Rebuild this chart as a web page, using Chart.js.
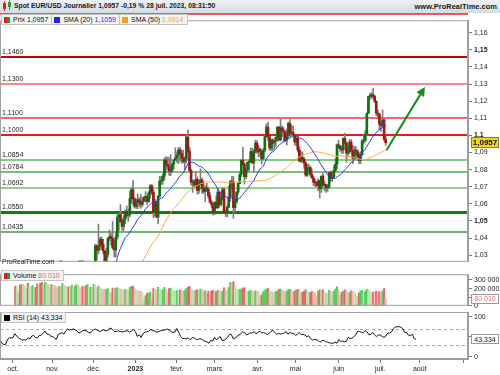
<!DOCTYPE html>
<html>
<head>
<meta charset="utf-8">
<script src="https://cdn.jsdelivr.net/npm/chart.js@4.4.0/dist/chart.umd.min.js"></script>
<style>
body{margin:0;background:#fff}
#wrap{position:relative;width:500px;height:375px;overflow:hidden;font-family:'Liberation Sans',Arial,sans-serif;color:#1a1a1a;background:#fff}
canvas{position:absolute;left:0}
.abs{position:absolute}
#hdr{left:0;top:0;width:500px;height:13px;background:linear-gradient(#eef2f5,#d2dce3)}
#title{left:14px;top:2px;font-size:6.8px;font-weight:bold;white-space:nowrap}
#site{right:3px;top:2px;font-size:7.5px;font-weight:bold;white-space:nowrap}
#redline{left:0;top:13px;width:468px;height:2px;background:#f25555}
.tags{position:absolute;display:flex}
.tag{height:9px;border:1px solid #c4c4c4;background:#f3f3f3;font-size:7px;line-height:9px;padding:0 3px 0 2px;white-space:nowrap;margin-right:-1px;color:#111}
.sq{display:inline-block;width:6px;height:6px;margin-right:3px;vertical-align:-0.5px}
.rg{background:linear-gradient(90deg,#d42020 50%,#22a022 50%)}
.axl{position:absolute;font-size:7px;line-height:8px;color:#222;z-index:5;white-space:nowrap}
</style>
</head>
<body>
<div id="wrap">
  <div id="hdr" class="abs"></div>
  <div class="abs" style="left:3px;top:3px;width:3px;height:6px;background:#d42020"></div>
  <div class="abs" style="left:4px;top:1px;width:1px;height:10px;background:#d42020"></div>
  <div class="abs" style="left:8px;top:2px;width:3px;height:5px;background:#22a022"></div>
  <div class="abs" style="left:9px;top:0px;width:1px;height:10px;background:#22a022"></div>
  <div id="title" class="abs">Spot EUR/USD Journalier 1,0957 -0,19 % 28 juil. 2023, 08:31:50</div>
  <div id="site" class="abs">www.ProRealTime.com</div>

  <canvas id="cPrice" width="500" height="254" style="top:14px"></canvas>
  <canvas id="cVol" width="500" height="44" style="top:268px"></canvas>
  <canvas id="cRsi" width="500" height="63" style="top:312px"></canvas>

  <div id="redline" class="abs"></div>
  <div class="tags" style="left:1px;top:14px">
    <div class="tag"><span class="sq rg"></span>Prix 1,0957</div>
    <div class="tag"><span class="sq" style="background:#2020ff"></span>SMA (20) <span style="color:#2a2aff">1,1059</span></div>
    <div class="tag"><span class="sq" style="background:#ff9a1a"></span>SMA (50) <span style="color:#ff9a1a">1,0914</span></div>
  </div>
  <div class="abs" style="left:2px;top:258px;font-size:6.6px;color:#222">ProRealTime.com</div>
  <div class="tags" style="left:1px;top:270px">
    <div class="tag"><span class="sq rg"></span>Volume <span style="color:#e06a6a">80 010</span></div>
  </div>
  <div class="tags" style="left:1px;top:312px">
    <div class="tag"><span class="sq" style="background:#000"></span>RSI (14) <span style="color:#111">43,334</span></div>
  </div>
</div>

<script>
// EUR/USD daily, 1 sept. 2022 -> 28 juil. 2023 (one line per month)
const opens = [
  1.0053,0.9945,0.9954,0.9929,0.9902,1.0012,1.0001,1.0042,1.0122,0.9966,0.9978,0.9995,1.0015,1.0025,0.9970,0.9835,0.9838,0.9688,0.9607,0.9594,0.9736,0.9815,
  0.9802,0.9826,0.9985,0.9890,0.9795,0.9745,0.9700,0.9706,0.9703,0.9779,0.9722,0.9841,0.9865,0.9772,0.9780,0.9864,0.9876,0.9962,1.0078,0.9964,0.9964,
  0.9882,0.9877,0.9818,0.9750,0.9960,1.0018,1.0074,1.0010,1.0209,1.0355,1.0327,1.0351,1.0393,1.0363,1.0324,1.0244,1.0304,1.0396,1.0409,1.0398,1.0345,1.0331,
  1.0406,1.0522,1.0537,1.0494,1.0468,1.0508,1.0555,1.0532,1.0538,1.0630,1.0683,1.0628,1.0585,1.0606,1.0623,1.0607,1.0597,1.0615,1.0638,1.0639,1.0612,1.0664,
  1.0705,1.0669,1.0548,1.0605,1.0522,1.0645,1.0733,1.0735,1.0762,1.0855,1.0831,1.0820,1.0789,1.0795,1.0831,1.0856,1.0870,1.0885,1.0915,1.0893,1.0867,1.0848,
  1.0862,1.0990,1.0908,1.0795,1.0727,1.0728,1.0711,1.0743,1.0678,1.0723,1.0740,1.0688,1.0673,1.0694,1.0685,1.0648,1.0610,1.0596,1.0547,1.0607,
  1.0576,1.0669,1.0596,1.0634,1.0683,1.0548,1.0545,1.0581,1.0641,1.0731,1.0729,1.0578,1.0611,1.0669,1.0719,1.0771,1.0855,1.0832,1.0758,1.0799,1.0843,1.0844,1.0905,
  1.0839,1.0900,1.0955,1.0907,1.0920,1.0901,1.0862,1.0913,1.0993,1.1048,1.0992,1.0927,1.0972,1.0955,1.0967,1.0989,1.1048,1.0974,1.1044,1.1028,
  1.1020,1.0972,1.1000,1.1071,1.1011,1.1019,1.1004,1.0961,1.0983,1.0915,1.0849,1.0872,1.0862,1.0838,1.0768,1.0806,1.0812,1.0771,1.0751,1.0727,1.0723,1.0707,1.0734,
  1.0689,1.0762,1.0708,1.0712,1.0693,1.0699,1.0782,1.0749,1.0755,1.0792,1.0831,1.0945,1.0939,1.0922,1.0915,1.0983,1.0956,1.0896,1.0904,1.0960,1.0911,1.0866,
  1.0910,1.0910,1.0881,1.0852,1.0887,1.0967,1.0970,1.1008,1.1130,1.1227,1.1229,1.1238,1.1228,1.1199,1.1130,1.1125,1.1065,1.1056,1.1090,1.0977
];
const highs = [
  1.0055,1.0033,0.9963,0.9989,1.0012,1.0030,1.0113,1.0198,1.0187,1.0019,1.0017,1.0036,1.0030,1.0051,0.9976,0.9908,0.9852,0.9708,0.9672,0.9737,0.9847,0.9853,
  0.9840,0.9999,0.9998,0.9920,0.9815,0.9745,0.9743,0.9737,0.9810,0.9809,0.9850,0.9875,0.9874,0.9849,0.9870,0.9875,0.9977,1.0094,1.0088,0.9983,0.9977,
  0.9953,0.9976,0.9828,0.9966,1.0033,1.0094,1.0094,1.0222,1.0365,1.0362,1.0481,1.0406,1.0405,1.0392,1.0328,1.0339,1.0403,1.0448,1.0428,1.0497,1.0390,1.0429,
  1.0534,1.0545,1.0595,1.0515,1.0531,1.0565,1.0587,1.0569,1.0673,1.0694,1.0736,1.0638,1.0629,1.0658,1.0636,1.0655,1.0637,1.0643,1.0671,1.0650,1.0673,1.0713,
  1.0713,1.0683,1.0629,1.0616,1.0648,1.0760,1.0761,1.0777,1.0868,1.0874,1.0873,1.0870,1.0887,1.0838,1.0860,1.0927,1.0904,1.0930,1.0929,1.0914,1.0914,1.0876,
  1.1000,1.1033,1.0932,1.0805,1.0740,1.0740,1.0790,1.0757,1.0736,1.0805,1.0752,1.0730,1.0705,1.0720,1.0698,1.0665,1.0621,1.0600,1.0615,1.0645,
  1.0691,1.0670,1.0640,1.0695,1.0694,1.0563,1.0590,1.0703,1.0736,1.0760,1.0760,1.0637,1.0672,1.0721,1.0788,1.0856,1.0930,1.0841,1.0805,1.0845,1.0858,1.0925,1.0925,
  1.0918,1.0973,1.0970,1.0941,1.0925,1.0914,1.0923,1.0998,1.1067,1.1076,1.0996,1.0978,1.0981,1.0974,1.0991,1.1051,1.1053,1.1095,1.1055,1.1045,
  1.1027,1.1037,1.1078,1.1092,1.1057,1.1055,1.1006,1.1003,1.0994,1.0933,1.0905,1.0903,1.0872,1.0846,1.0830,1.0832,1.0822,1.0803,1.0762,1.0745,1.0731,1.0746,1.0738,
  1.0762,1.0779,1.0733,1.0716,1.0712,1.0787,1.0791,1.0792,1.0823,1.0865,1.0951,1.0971,1.0940,1.0934,1.0985,1.1012,1.0961,1.0939,1.0976,1.0976,1.0942,1.0935,
  1.0934,1.0916,1.0900,1.0904,1.0975,1.1002,1.1029,1.1130,1.1228,1.1245,1.1250,1.1276,1.1234,1.1202,1.1148,1.1130,1.1079,1.1149,1.1095,1.0995
];
const lows = [
  0.9910,0.9943,0.9877,0.9864,0.9864,0.9930,0.9995,1.0040,0.9956,0.9955,0.9955,0.9945,0.9966,0.9966,0.9810,0.9807,0.9667,0.9536,0.9594,0.9535,0.9675,0.9749,
  0.9755,0.9814,0.9836,0.9785,0.9725,0.9671,0.9633,0.9677,0.9632,0.9710,0.9720,0.9805,0.9762,0.9756,0.9705,0.9808,0.9855,0.9961,0.9954,0.9924,0.9871,
  0.9851,0.9813,0.9731,0.9745,0.9925,0.9976,1.0001,0.9937,1.0202,1.0270,1.0305,1.0331,1.0333,1.0306,1.0225,1.0244,1.0288,1.0385,1.0360,1.0335,1.0289,1.0290,
  1.0392,1.0444,1.0494,1.0444,1.0443,1.0484,1.0519,1.0497,1.0524,1.0603,1.0593,1.0576,1.0573,1.0572,1.0583,1.0573,1.0584,1.0612,1.0611,1.0595,1.0610,1.0635,
  1.0653,1.0519,1.0528,1.0522,1.0483,1.0639,1.0713,1.0713,1.0739,1.0780,1.0802,1.0766,1.0765,1.0780,1.0806,1.0856,1.0842,1.0834,1.0849,1.0836,1.0838,1.0800,
  1.0838,1.0901,1.0790,1.0709,1.0667,1.0696,1.0701,1.0656,1.0660,1.0710,1.0661,1.0661,1.0612,1.0673,1.0632,1.0605,1.0578,1.0533,1.0536,1.0575,
  1.0574,1.0579,1.0587,1.0621,1.0545,1.0525,1.0524,1.0578,1.0613,1.0687,1.0516,1.0552,1.0603,1.0655,1.0717,1.0759,1.0822,1.0714,1.0746,1.0780,1.0793,1.0840,1.0836,
  1.0788,1.0899,1.0894,1.0876,1.0873,1.0831,1.0860,1.0903,1.0986,1.0970,1.0913,1.0909,1.0910,1.0921,1.0935,1.0964,1.0967,1.0967,1.0992,1.0962,
  1.0963,1.0944,1.0986,1.0993,1.0995,1.0998,1.0942,1.0938,1.0902,1.0848,1.0840,1.0843,1.0807,1.0760,1.0760,1.0792,1.0760,1.0748,1.0706,1.0701,1.0700,1.0675,1.0635,
  1.0667,1.0706,1.0677,1.0667,1.0673,1.0690,1.0731,1.0731,1.0750,1.0789,1.0805,1.0923,1.0906,1.0895,1.0895,1.0953,1.0844,1.0873,1.0892,1.0902,1.0834,1.0866,
  1.0883,1.0868,1.0834,1.0834,1.0883,1.0950,1.0960,1.1000,1.1126,1.1209,1.1218,1.1212,1.1192,1.1114,1.1109,1.1035,1.1023,1.1048,1.0966,1.0941
];
const closes = [
  0.9945,0.9954,0.9929,0.9902,1.0012,1.0001,1.0042,1.0122,0.9966,0.9978,0.9995,1.0015,1.0025,0.9970,0.9835,0.9838,0.9688,0.9607,0.9594,0.9736,0.9815,0.9802,
  0.9826,0.9985,0.9890,0.9795,0.9745,0.9700,0.9706,0.9703,0.9779,0.9722,0.9841,0.9865,0.9772,0.9780,0.9864,0.9876,0.9962,1.0078,0.9964,0.9964,0.9882,
  0.9877,0.9818,0.9750,0.9960,1.0018,1.0074,1.0010,1.0209,1.0355,1.0327,1.0351,1.0393,1.0363,1.0324,1.0244,1.0304,1.0396,1.0409,1.0398,1.0345,1.0331,1.0406,
  1.0522,1.0537,1.0494,1.0468,1.0508,1.0555,1.0532,1.0538,1.0630,1.0683,1.0628,1.0585,1.0606,1.0623,1.0607,1.0597,1.0615,1.0638,1.0639,1.0612,1.0664,1.0705,
  1.0669,1.0548,1.0605,1.0522,1.0645,1.0733,1.0735,1.0762,1.0855,1.0831,1.0820,1.0789,1.0795,1.0831,1.0856,1.0870,1.0885,1.0915,1.0893,1.0867,1.0848,1.0862,
  1.0990,1.0908,1.0795,1.0727,1.0728,1.0711,1.0743,1.0678,1.0723,1.0740,1.0688,1.0673,1.0694,1.0685,1.0648,1.0610,1.0596,1.0547,1.0607,1.0576,
  1.0669,1.0596,1.0634,1.0683,1.0548,1.0545,1.0581,1.0641,1.0731,1.0729,1.0578,1.0611,1.0669,1.0719,1.0771,1.0855,1.0832,1.0758,1.0799,1.0843,1.0844,1.0905,1.0839,
  1.0900,1.0955,1.0907,1.0920,1.0901,1.0862,1.0913,1.0993,1.1048,1.0992,1.0927,1.0972,1.0955,1.0967,1.0989,1.1048,1.0974,1.1044,1.1028,1.1020,
  1.0972,1.1000,1.1071,1.1011,1.1019,1.1004,1.0961,1.0983,1.0915,1.0849,1.0872,1.0862,1.0838,1.0768,1.0806,1.0812,1.0771,1.0751,1.0727,1.0723,1.0707,1.0734,1.0689,
  1.0762,1.0708,1.0712,1.0693,1.0699,1.0782,1.0749,1.0755,1.0792,1.0831,1.0945,1.0939,1.0922,1.0915,1.0983,1.0956,1.0896,1.0904,1.0960,1.0911,1.0866,1.0910,
  1.0910,1.0881,1.0852,1.0887,1.0967,1.0970,1.1008,1.1130,1.1227,1.1229,1.1238,1.1228,1.1199,1.1130,1.1125,1.1065,1.1056,1.1090,1.0977,1.0957
];
// volume in thousands
const volK = [
  230,215,160,240,250,245,235,210,260,225,220,235,200,215,255,250,265,270,250,275,260,245,
  220,250,240,235,230,205,225,215,260,235,230,215,220,210,240,205,225,245,240,215,210,
  225,215,235,245,210,215,205,250,235,200,230,205,195,190,185,190,200,160,150,205,195,205,
  210,200,195,185,180,190,185,180,215,225,230,200,185,175,170,165,150,80,120,145,150,160,
  85,200,195,185,215,190,175,185,215,190,150,200,205,180,175,170,180,175,185,175,170,180,
  200,215,225,190,185,175,180,185,170,195,180,170,175,140,170,165,170,180,160,165,
  180,175,160,170,210,185,175,215,270,260,280,235,200,185,190,195,205,210,170,165,170,180,175,
  165,175,170,165,110,130,165,180,195,200,170,165,160,155,165,175,190,195,180,170,
  150,175,185,190,185,160,170,185,190,185,150,160,170,185,175,150,155,165,160,150,110,170,185,
  175,185,155,150,145,180,165,150,170,195,220,185,120,155,170,185,180,150,155,175,170,165,
  130,105,150,175,180,160,170,195,185,165,150,160,155,170,160,165,155,175,200,80
];

// trading days per month, sept. 2022 .. sept. 2023
const monthDays = [22,21,22,22,22,20,23,20,23,22,21,23,21];
const monthLabels = ['sept.','oct.','nov.','déc.','2023','févr.','mars','avr.','mai','juin','juil.','août',''];
const priceTicks = [1.03,1.04,1.05,1.06,1.07,1.08,1.09,1.10,1.11,1.12,1.13,1.14,1.15,1.16];
const volTicks = [0,100,200,300];
const rsiTicks = [0,50,100];
const rsiBands = [70,30];

const levels = [1.1460,1.1300,1.1100,1.1000,1.0854,1.0784,1.0692,1.0550,1.0435];
const levelColors = ['#cc0000','#f06868','#ee3434','#e41c1c','#5cba5c','#52a852','#6cc06c','#0c800c','#38a038'];
const levelWidths = [2,1.5,1.5,2,1.5,1.5,1.5,3,1.5];

const lastPrice = 1.0957, lastVolK = 80.01, lastRsi = 43.334;
const arrowEnd = { i: 261, v: 1.1283 };

const xMin = 15.1, xMax = 263.6;
const FONT = "'Liberation Sans', Arial, sans-serif";
Chart.defaults.font.family = FONT;
Chart.defaults.font.size = 7;
Chart.defaults.color = '#222';

function sma(arr, n) {
  const out = [];
  for (let i = n - 1; i < arr.length; i++) {
    let s = 0;
    for (let k = i - n + 1; k <= i; k++) s += arr[k];
    out.push({ x: i, y: s / n });
  }
  return out;
}
function rsi(arr, n) {
  const out = [];
  let g = 0, l = 0;
  for (let i = 1; i <= n; i++) {
    const d = arr[i] - arr[i - 1];
    if (d > 0) g += d; else l -= d;
  }
  g /= n; l /= n;
  out.push({ x: n, y: 100 - 100 / (1 + g / l) });
  for (let i = n + 1; i < arr.length; i++) {
    const d = arr[i] - arr[i - 1];
    g = (g * (n - 1) + Math.max(d, 0)) / n;
    l = (l * (n - 1) + Math.max(-d, 0)) / n;
    out.push({ x: i, y: 100 - 100 / (1 + g / l) });
  }
  return out;
}

const monthStarts = [0];
monthDays.forEach(d => monthStarts.push(monthStarts[monthStarts.length - 1] + d));
const xTicks = monthLabels.map((lab, k) => ({ value: monthStarts[k], label: lab }))
  .filter(t => t.value >= xMin && t.value <= xMax);

const fixWidth = s => { s.width = 32; };
const xHidden = { type: 'linear', min: xMin, max: xMax, display: false };
const rightAxis = (min, max, ticks, cb, fontFn) => ({
  type: 'linear', position: 'right', min: min, max: max,
  afterFit: fixWidth,
  afterBuildTicks: s => { s.ticks = ticks.map(v => ({ value: v })); },
  grid: { drawOnChartArea: false, tickLength: 4, color: '#777' },
  border: { color: '#9a9a9a' },
  ticks: { autoSkip: false, padding: 2, color: '#222', callback: cb, font: fontFn || { size: 7 } }
});

const frame = {
  id: 'frame',
  afterDraw(chart) {
    const { ctx, chartArea: a } = chart;
    ctx.save();
    ctx.strokeStyle = '#a0a0a0'; ctx.lineWidth = 1;
    ctx.strokeRect(a.left + 0.5, a.top + 0.5, a.right - a.left - 1, a.bottom - a.top - 1);
    ctx.restore();
  }
};
function valueBox(chart, value, text, opt) {
  const { ctx, chartArea: a, scales: { y } } = chart;
  const py = y.getPixelForValue(value);
  ctx.save();
  ctx.font = (opt.bold ? 'bold ' : '') + opt.size + 'px ' + FONT;
  const h = opt.h, x0 = a.right + 3, w = opt.w;
  ctx.fillStyle = opt.bg; ctx.fillRect(x0, py - h / 2, w, h);
  ctx.strokeStyle = opt.border; ctx.lineWidth = 1;
  ctx.strokeRect(Math.round(x0) + 0.5, Math.round(py - h / 2) + 0.5, w - 1, h - 1);
  ctx.fillStyle = opt.fg; ctx.textBaseline = 'middle'; ctx.textAlign = 'center';
  ctx.fillText(text, x0 + w / 2, py + 0.5);
  ctx.restore();
}

const levelPlugin = {
  id: 'levels',
  beforeDatasetsDraw(chart) {
    const { ctx, chartArea: a, scales: { y } } = chart;
    ctx.save();
    ctx.font = '7px ' + FONT;
    ctx.textBaseline = 'bottom';
    levels.forEach((v, k) => {
      const w = levelWidths[k];
      const py = Math.round(y.getPixelForValue(v)) + (w % 2 === 1 ? 0.5 : 0);
      ctx.strokeStyle = levelColors[k]; ctx.lineWidth = w;
      ctx.beginPath(); ctx.moveTo(a.left, py); ctx.lineTo(a.right, py); ctx.stroke();
      ctx.fillStyle = '#222';
      ctx.fillText(v.toFixed(4).replace('.', ','), a.left + 2, py - w / 2 - 0.5);
    });
    ctx.restore();
  },
  afterDatasetsDraw(chart) {
    const { ctx, scales: { x, y } } = chart;
    const last = closes.length - 1;
    const s50 = sma(closes, 50);
    const x0 = x.getPixelForValue(last + 0.5), y0 = y.getPixelForValue(s50[s50.length - 1].y);
    const x1 = x.getPixelForValue(arrowEnd.i), y1 = y.getPixelForValue(arrowEnd.v);
    const ang = Math.atan2(y1 - y0, x1 - x0), hl = 9, hw = 4.5;
    const bx = x1 - hl * Math.cos(ang), by = y1 - hl * Math.sin(ang);
    ctx.save();
    ctx.strokeStyle = '#178a17'; ctx.fillStyle = '#178a17'; ctx.lineWidth = 2;
    ctx.beginPath(); ctx.moveTo(x0, y0); ctx.lineTo(bx, by); ctx.stroke();
    ctx.beginPath();
    ctx.moveTo(x1, y1);
    ctx.lineTo(bx + hw * Math.sin(ang), by - hw * Math.cos(ang));
    ctx.lineTo(bx - hw * Math.sin(ang), by + hw * Math.cos(ang));
    ctx.closePath(); ctx.fill();
    ctx.restore();
  },
  afterDraw(chart) {
    valueBox(chart, lastPrice, '1,0957', { bold: true, size: 8, h: 11, w: 28, bg: '#f6d21c', fg: '#111', border: '#777' });
  }
};

const isUp = i => closes[i] >= opens[i];
const fmtPrice = v => String(+v.toFixed(2)).replace('.', ',');
const priceFont = c => ({ size: 7, weight: c.tick && Math.round(c.tick.value * 100) % 5 === 0 ? 'bold' : 'normal' });
const xFont = c => ({ size: 7, weight: c.tick && xTicks[c.index] && xTicks[c.index].label === '2023' ? 'bold' : 'normal' });

// price panel
new Chart(document.getElementById('cPrice'), {
  type: 'bar',
  data: {
    datasets: [
      { type: 'line', data: sma(closes, 20), borderColor: '#3030ff', borderWidth: 1, pointRadius: 0, order: 0 },
      { type: 'line', data: sma(closes, 50), borderColor: '#ffa838', borderWidth: 1, pointRadius: 0, order: 0 },
      { data: closes.map((c, i) => ({ x: i, y: [opens[i], c] })), grouped: false, barThickness: 2, minBarLength: 1,
        backgroundColor: c => isUp(c.dataIndex) ? '#136d13' : '#a01616', order: 1 },
      { data: closes.map((c, i) => ({ x: i, y: [lows[i], highs[i]] })), grouped: false, barThickness: 1,
        backgroundColor: '#7e7e7e', order: 2 }
    ]
  },
  options: {
    responsive: false, animation: false,
    layout: { padding: { top: 1, left: 0, right: 0, bottom: 0 } },
    plugins: { legend: { display: false }, tooltip: { enabled: false } },
    scales: {
      x: xHidden,
      y: rightAxis(1.0261, 1.1673, priceTicks, fmtPrice, priceFont)
    }
  },
  plugins: [levelPlugin, frame]
});

// volume panel
new Chart(document.getElementById('cVol'), {
  type: 'bar',
  data: {
    datasets: [{
      data: volK.map((v, i) => ({ x: i, y: v })), barThickness: 1.5,
      backgroundColor: c => {
        const i = c.dataIndex, more = i === 0 || volK[i] >= volK[i - 1];
        if (isUp(i)) return more ? '#5ccc5c' : '#b8e8b0';
        return more ? '#e46868' : '#f5b8b8';
      }
    }]
  },
  options: {
    responsive: false, animation: false,
    layout: { padding: 0 },
    plugins: { legend: { display: false }, tooltip: { enabled: false } },
    scales: {
      x: xHidden,
      y: rightAxis(0, 367, volTicks, v => v === 0 ? '0' : v + ' 000')
    }
  },
  plugins: [frame, { id: 'vbox', afterDraw(chart) {
    valueBox(chart, lastVolK, '80 010', { bold: false, size: 7, h: 10, w: 28, bg: '#fff', fg: '#e06a6a', border: '#9a9a9a' });
  } }]
});

// RSI panel + time axis
const rsiAxis = rightAxis(-6, 112, rsiTicks, v => String(v));
rsiAxis.ticks.display = false;
const rsiChart = new Chart(document.getElementById('cRsi'), {
  type: 'line',
  data: {
    datasets: [{ data: rsi(closes, 14), borderColor: '#111', borderWidth: 1, pointRadius: 0 }]
  },
  options: {
    responsive: false, animation: false,
    layout: { padding: 0 },
    plugins: { legend: { display: false }, tooltip: { enabled: false } },
    scales: {
      x: {
        type: 'linear', min: xMin, max: xMax,
        afterFit: s => { s.height = 16; },
        afterBuildTicks: s => { s.ticks = xTicks.map(t => ({ value: t.value })); },
        grid: { drawOnChartArea: false, tickLength: 4, color: '#777' },
        border: { color: '#9a9a9a' },
        ticks: { autoSkip: false, maxRotation: 0, padding: 2, color: '#222',
          callback: (v, k) => xTicks[k] ? xTicks[k].label : '',
          font: xFont }
      },
      y: rsiAxis
    }
  },
  plugins: [frame, {
    id: 'bands',
    beforeDatasetsDraw(chart) {
      const { ctx, chartArea: a, scales: { y } } = chart;
      ctx.save();
      ctx.strokeStyle = '#a8a8a8'; ctx.lineWidth = 1; ctx.setLineDash([3, 3]);
      rsiBands.forEach(v => {
        const py = Math.round(y.getPixelForValue(v)) + 0.5;
        ctx.beginPath(); ctx.moveTo(a.left, py); ctx.lineTo(a.right, py); ctx.stroke();
      });
      ctx.restore();
    },
    afterDraw(chart) {
      valueBox(chart, lastRsi, '43,334', { bold: false, size: 7, h: 10, w: 28, bg: '#fff', fg: '#111', border: '#9a9a9a' });
    }
  }]
});

// RSI axis labels as text placed from the scale (the "50" sits behind the value box)
const rsiCanvasTop = 312;
rsiTicks.filter(v => v !== 50).forEach(v => {
  const d = document.createElement('div');
  d.className = 'axl';
  d.textContent = String(v);
  d.style.left = (rsiChart.chartArea.right + 6) + 'px';
  d.style.top = (rsiCanvasTop + rsiChart.scales.y.getPixelForValue(v) - 4) + 'px';
  document.getElementById('wrap').appendChild(d);
});
</script>
</body>
</html>
